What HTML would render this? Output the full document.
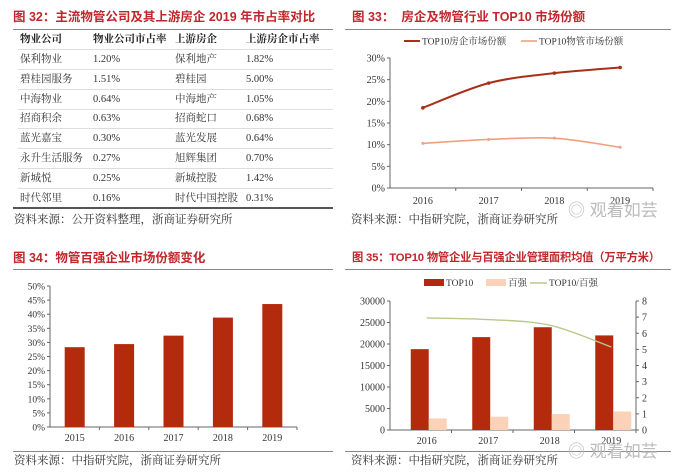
<!DOCTYPE html>
<html><head><meta charset="utf-8">
<style>
body{margin:0;background:#fff;width:681px;height:476px;position:relative;overflow:hidden;font-family:"Liberation Serif","Noto Serif CJK SC",serif;color:#222}
.t{position:absolute;font-family:"Liberation Sans","Noto Sans CJK SC",sans-serif;font-weight:bold;font-size:12.5px;line-height:16px;color:#c0262c;white-space:nowrap}
.rule{position:absolute;height:1px;background:#888}
.src{position:absolute;font-size:11.5px;line-height:15px;color:#333;white-space:nowrap}
.c{position:absolute;font-size:10.5px;line-height:14px;height:14px;white-space:nowrap;color:#333}
.h{font-weight:bold;color:#222}
.rl{position:absolute;left:18px;width:315px;height:1px;background:#ddd}
svg{position:absolute;left:0;top:0}
.wm{position:absolute;font-family:"Liberation Sans","Noto Sans CJK SC",sans-serif;font-size:17px;color:#bbb;white-space:nowrap}
</style></head><body>
<div class="t" style="left:13px;top:9px">图 32：主流物管公司及其上游房企 2019 年市占率对比</div>
<div class="rule" style="left:13px;top:29px;width:320px"></div>
<div id="tbl"></div>
<div class="rule" style="left:13px;top:207px;width:320px;height:2px;background:#555"></div>
<div class="src" style="left:14px;top:213px">资料来源：公开资料整理，浙商证券研究所</div>

<div class="t" style="left:352px;top:9px">图 33：&nbsp; 房企及物管行业 TOP10 市场份额</div>
<div class="rule" style="left:345px;top:29px;width:326px"></div>
<div class="src" style="left:351px;top:213px">资料来源：中指研究院，浙商证券研究所</div>

<div class="t" style="left:13px;top:250px">图 34：物管百强企业市场份额变化</div>
<div class="rule" style="left:13px;top:269px;width:320px"></div>
<div class="rule" style="left:13px;top:451px;width:320px"></div>
<div class="src" style="left:14px;top:454px">资料来源：中指研究院，浙商证券研究所</div>

<div class="t" style="left:352px;top:250px;font-size:11.3px;letter-spacing:-0.2px">图 35：TOP10 物管企业与百强企业管理面积均值（万平方米）</div>
<div class="rule" style="left:345px;top:269px;width:326px"></div>
<div class="rule" style="left:345px;top:451px;width:326px"></div>
<div class="src" style="left:351px;top:454px">资料来源：中指研究院，浙商证券研究所</div>

<svg id="s" width="681" height="476"></svg>
<div class="wm" style="left:568px;top:196px">◎ 观着如芸</div>
<div class="wm" style="left:568px;top:437px">◎ 观着如芸</div>

<script>
// table data
const heads=["物业公司","物业公司市占率","上游房企","上游房企市占率"];
const cos=["保利物业","碧桂园服务","中海物业","招商积余","蓝光嘉宝","永升生活服务","新城悦","时代邻里"];
const coShare=["1.20%","1.51%","0.64%","0.63%","0.30%","0.27%","0.25%","0.16%"];
const devs=["保利地产","碧桂园","中海地产","招商蛇口","蓝光发展","旭辉集团","新城控股","时代中国控股"];
const devShare=["1.82%","5.00%","1.05%","0.68%","0.64%","0.70%","1.42%","0.31%"];
// chart33
const yrs33=["2016","2017","2018","2019"];
const dev33=[18.5,24.2,26.5,27.8];
const pm33=[10.3,11.2,11.5,9.4];
// chart34
const yrs34=["2015","2016","2017","2018","2019"];
const share34=[28.3,29.4,32.4,38.8,43.6];
// chart35
const yrs35=["2016","2017","2018","2019"];
const top35=[18800,21600,23900,22000];
const bq35=[2700,3100,3700,4300];
const ratio35=[6.95,6.85,6.5,5.15];

const tbl=document.getElementById('tbl');
const colX=[20,93,175,246];
function cell(x,y,txt,cls,name){const d=document.createElement('div');d.className='c '+(cls||'');d.style.left=x+'px';d.style.top=y+'px';d.textContent=txt;


tbl.appendChild(d);}
heads.forEach((h,i)=>cell(colX[i],33,h,'h','table-header'));
function line(y,name){const d=document.createElement('div');d.className='rl';d.style.top=y+'px';


tbl.appendChild(d);}
line(49,'header-rule');
cos.forEach((c,i)=>{const y=53+i*19.8;
cell(colX[0],y,c,'','company-name');cell(colX[1],y,coShare[i],'','company-share');
cell(colX[2],y,devs[i],'','developer-name');cell(colX[3],y,devShare[i],'','developer-share');
if(i<cos.length-1)line(y+16,'row-rule');});

const svg=document.getElementById('s');const NS='http://www.w3.org/2000/svg';
function el(t,a,name){const e=document.createElementNS(NS,t);for(const k in a)e.setAttribute(k,a[k]);


svg.appendChild(e);return e;}
function txt(x,y,s,anchor,name,size,fill){const e=el('text',{x:x,y:y,'text-anchor':anchor,'font-size':size||10,fill:fill||'#333','font-family':'"Liberation Serif","Noto Serif CJK SC",serif'},name);e.textContent=s;return e;}
function smooth(pts){let d='M'+pts[0][0]+','+pts[0][1];for(let i=0;i<pts.length-1;i++){const p0=pts[i-1]||pts[i],p1=pts[i],p2=pts[i+1],p3=pts[i+2]||p2;
const c1=[p1[0]+(p2[0]-p0[0])/6,p1[1]+(p2[1]-p0[1])/6],c2=[p2[0]-(p3[0]-p1[0])/6,p2[1]-(p3[1]-p1[1])/6];d+=' C'+c1+' '+c2+' '+p2;}return d;}

// chart 33
(function(){const x0=390,x1=653,yTop=58,yBot=188;const band=(x1-x0)/yrs33.length;
const X=i=>x0+band*(i+0.5),Y=v=>yBot-(v/30)*(yBot-yTop);
el('line',{x1:x0,y1:yTop,x2:x0,y2:yBot,stroke:'#666'},'c33-y-axis');
el('line',{x1:x0,y1:yBot,x2:x1,y2:yBot,stroke:'#666'},'c33-x-axis');
for(let v=0;v<=30;v+=5){el('line',{x1:x0-3,y1:Y(v),x2:x0,y2:Y(v),stroke:'#666'},'c33-y-tick');txt(x0-5,Y(v)+3.5,v+'%','end','c33-y-label');}
yrs33.forEach((y,i)=>{el('line',{x1:x0+band*(i+1),y1:yBot,x2:x0+band*(i+1),y2:yBot+3,stroke:'#666'},'c33-x-tick');txt(X(i),204,y,'middle','c33-x-label');});
el('path',{d:smooth(dev33.map((v,i)=>[X(i),Y(v)])),fill:'none',stroke:'#a8301a','stroke-width':2},'c33-line-developer');
dev33.forEach((v,i)=>el('circle',{cx:X(i),cy:Y(v),r:1.8,fill:'#a8301a'},'c33-point-developer'));
el('path',{d:smooth(pm33.map((v,i)=>[X(i),Y(v)])),fill:'none',stroke:'#f0a080','stroke-width':1.6},'c33-line-pm');
pm33.forEach((v,i)=>el('circle',{cx:X(i),cy:Y(v),r:1.5,fill:'#f0a080'},'c33-point-pm'));
el('line',{x1:404,y1:41,x2:420,y2:41,stroke:'#a8301a','stroke-width':2},'c33-legend-dev-swatch');
txt(422,44.5,'TOP10房企市场份额','start','c33-legend-dev',9.5);
el('line',{x1:521,y1:41,x2:537,y2:41,stroke:'#f0a080','stroke-width':1.6},'c33-legend-pm-swatch');
txt(539,44.5,'TOP10物管市场份额','start','c33-legend-pm',9.5);})();

// chart 34
(function(){const x0=50,x1=297,yTop=286,yBot=427;const band=(x1-x0)/yrs34.length;
const X=i=>x0+band*(i+0.5),Y=v=>yBot-(v/50)*(yBot-yTop);
el('line',{x1:x0,y1:yTop,x2:x0,y2:yBot,stroke:'#666'},'c34-y-axis');
el('line',{x1:x0,y1:yBot,x2:x1,y2:yBot,stroke:'#666'},'c34-x-axis');
for(let v=0;v<=50;v+=5){el('line',{x1:x0-3,y1:Y(v),x2:x0,y2:Y(v),stroke:'#666'},'c34-y-tick');txt(x0-5,Y(v)+3.5,v+'%','end','c34-y-label',9.5);}
yrs34.forEach((y,i)=>{el('line',{x1:x0+band*(i+1),y1:yBot,x2:x0+band*(i+1),y2:yBot+3,stroke:'#666'},'c34-x-tick');txt(X(i),441,y,'middle','c34-x-label');
el('rect',{x:X(i)-10,y:Y(share34[i]),width:20,height:yBot-Y(share34[i]),fill:'#b32a0c'},'c34-bar-'+y);});})();

// chart 35
(function(){const x0=390,x1=636,yTop=301,yBot=430;const band=(x1-x0)/yrs35.length;
const X=i=>x0+band*(i+0.5)+8,Y=v=>yBot-(v/30000)*(yBot-yTop),Y2=v=>yBot-(v/8)*(yBot-yTop);
el('line',{x1:x0,y1:yTop,x2:x0,y2:yBot,stroke:'#666'},'c35-y-axis');
el('line',{x1:x1,y1:yTop,x2:x1,y2:yBot,stroke:'#666'},'c35-y2-axis');
el('line',{x1:x0,y1:yBot,x2:x1,y2:yBot,stroke:'#666'},'c35-x-axis');
for(let v=0;v<=30000;v+=5000){el('line',{x1:x0-3,y1:Y(v),x2:x0,y2:Y(v),stroke:'#666'},'c35-y-tick');txt(x0-5,Y(v)+3.5,String(v),'end','c35-y-label');}
for(let v=0;v<=8;v++){el('line',{x1:x1,y1:Y2(v),x2:x1+3,y2:Y2(v),stroke:'#666'},'c35-y2-tick');txt(x1+6,Y2(v)+3.5,String(v),'start','c35-y2-label');}
yrs35.forEach((y,i)=>{el('line',{x1:x0+band*(i+1),y1:yBot,x2:x0+band*(i+1),y2:yBot+3,stroke:'#666'},'c35-x-tick');txt(X(i)-2,444,y,'middle','c35-x-label');
el('rect',{x:X(i)-18,y:Y(top35[i]),width:18,height:yBot-Y(top35[i]),fill:'#b32a0c'},'c35-bar-top10-'+y);
el('rect',{x:X(i),y:Y(bq35[i]),width:18,height:yBot-Y(bq35[i]),fill:'#fbd2b8'},'c35-bar-top100-'+y);});
el('path',{d:smooth(ratio35.map((v,i)=>[X(i)-2,Y2(v)])),fill:'none',stroke:'#b8c98c','stroke-width':1.4},'c35-line-ratio');
el('rect',{x:424,y:279,width:20,height:7,fill:'#b32a0c'},'c35-legend-top10-swatch');txt(446,286,'TOP10','start','c35-legend-top10',9.5);
el('rect',{x:486,y:279,width:20,height:7,fill:'#fbd2b8'},'c35-legend-top100-swatch');txt(508,286,'百强','start','c35-legend-top100',9.5);
el('line',{x1:530,y1:283,x2:547,y2:283,stroke:'#b8c98c','stroke-width':1.4},'c35-legend-ratio-swatch');txt(549,286,'TOP10/百强','start','c35-legend-ratio',9.5);})();
</script>
</body></html>
